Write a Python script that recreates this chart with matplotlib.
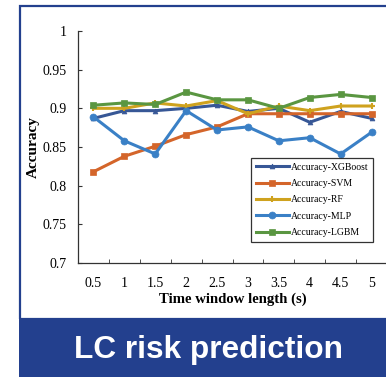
import matplotlib
matplotlib.use("Agg")
import matplotlib.pyplot as plt
from matplotlib.patches import Rectangle

# --- data ---
windows = ["0.5", "1", "1.5", "2", "2.5", "3", "3.5", "4", "4.5", "5"]
acc_xgb = [0.887, 0.897, 0.897, 0.900, 0.904, 0.896, 0.900, 0.882, 0.896, 0.887]
acc_svm = [0.818, 0.838, 0.851, 0.866, 0.876, 0.893, 0.893, 0.893, 0.893, 0.893]
acc_rf = [0.900, 0.900, 0.907, 0.903, 0.910, 0.893, 0.903, 0.897, 0.903, 0.903]
acc_mlp = [0.889, 0.858, 0.841, 0.897, 0.872, 0.876, 0.858, 0.862, 0.841, 0.869]
acc_lgbm = [0.904, 0.907, 0.905, 0.921, 0.911, 0.911, 0.900, 0.914, 0.918, 0.914]
y_ticks = [0.7, 0.75, 0.8, 0.85, 0.9, 0.95, 1.0]
y_tick_labels = ["0.7", "0.75", "0.8", "0.85", "0.9", "0.95", "1"]

series = [
    ("Accuracy-XGBoost", acc_xgb, "#375796", "^", 3.5),
    ("Accuracy-SVM", acc_svm, "#D4652A", "s", 4.5),
    ("Accuracy-RF", acc_rf, "#CFA21E", "+", 4.5),
    ("Accuracy-MLP", acc_mlp, "#3A80C6", "o", 5),
    ("Accuracy-LGBM", acc_lgbm, "#5A9641", "s", 5),
]

W, H = 386, 383
fig = plt.figure(figsize=(W / 100, H / 100), dpi=100)
fig.patch.set_facecolor("white")

blue = "#23408E"
# frame around the chart (left + top edges visible)
fig.add_artist(Rectangle((20 / W, 1 - 319 / H), 1.0, 313 / H, transform=fig.transFigure,
                         facecolor="none", edgecolor=blue, linewidth=1.6))
# banner
fig.add_artist(Rectangle((19 / W, 1 - 377 / H), 1.0, 58 / H, transform=fig.transFigure,
                         facecolor=blue, edgecolor="none"))
fig.text(208 / W, 1 - 350 / H, "LC risk prediction", color="white", fontsize=22.8,
         fontweight="bold", family="Liberation Sans", ha="center", va="center")

ax = fig.add_axes([78 / W, 1 - 263 / H, 309 / W, 232 / H])
x = [i + 0.5 for i in range(len(windows))]
for name, vals, col, mk, ms in series:
    ax.plot(x, vals, color=col, linewidth=2.2, marker=mk, markersize=ms,
            markeredgewidth=1.5 if mk == "+" else 0.5, label=name)

ax.set_xlim(0, 10)
ax.set_ylim(0.7, 1.0)
ax.set_xticks(x)
ax.set_xticklabels(windows, family="Liberation Serif", fontsize=10)
ax.set_xticks(range(11), minor=True)
ax.set_yticks(y_ticks)
ax.set_yticklabels(y_tick_labels, family="Liberation Serif", fontsize=10)
ax.tick_params(axis="x", which="major", length=0, pad=10)
ax.tick_params(axis="x", which="minor", direction="in", length=3, color="#333333")
ax.tick_params(axis="y", direction="in", length=3, pad=8, color="#333333")

for s in ["top", "right"]:
    ax.spines[s].set_visible(False)
for s in ["left", "bottom"]:
    ax.spines[s].set_color("#333333")
    ax.spines[s].set_linewidth(0.9)

ax.set_ylabel("Accuracy", family="Liberation Serif", fontweight="bold", fontsize=11, labelpad=2)
ax.set_xlabel("Time window length (s)", family="Liberation Serif", fontweight="bold",
              fontsize=10.6, labelpad=2)

leg = ax.legend(loc="upper right", bbox_to_anchor=(373 / W, 1 - 158 / H),
                bbox_transform=fig.transFigure, prop={"family": "Liberation Serif", "size": 7},
                frameon=True, fancybox=False, edgecolor="black", handlelength=3.4,
                labelspacing=0.75, borderpad=0.5, handletextpad=0.2, borderaxespad=0)
leg.get_frame().set_linewidth(0.9)

fig.savefig("out.png", dpi=100)
